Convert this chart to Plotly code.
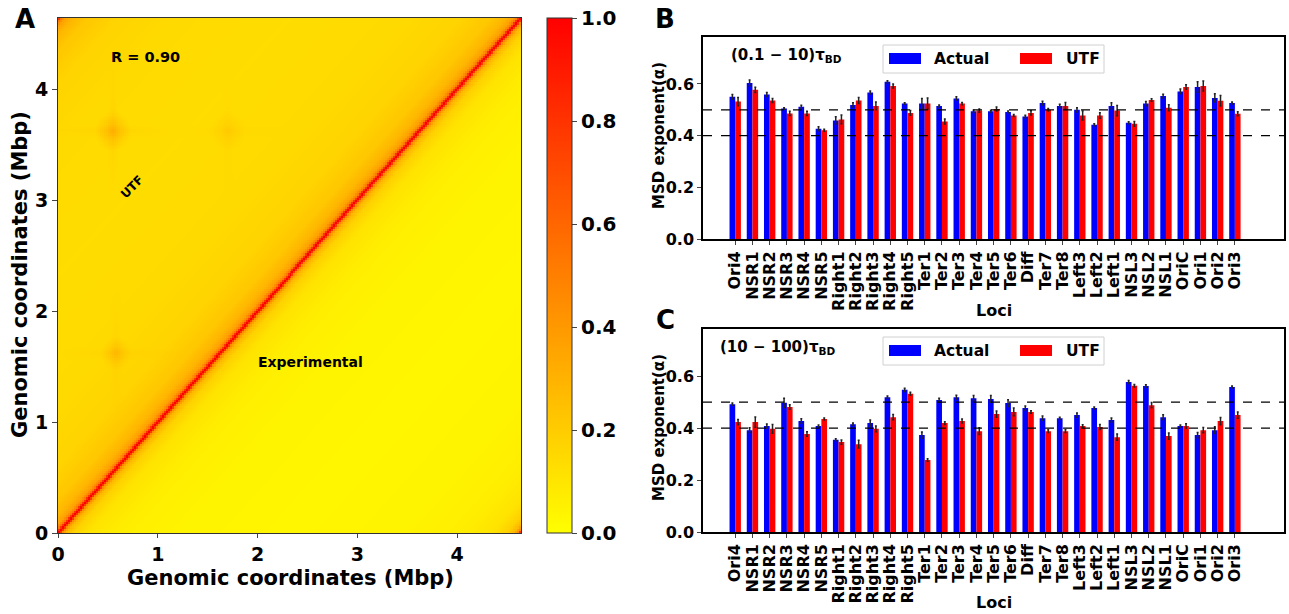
import numpy as np
import plotly.graph_objects as go

W, H = 1289, 614

# ---------------- data ----------------
loci = ["Ori4", "NSR1", "NSR2", "NSR3", "NSR4", "NSR5", "Right1", "Right2", "Right3",
        "Right4", "Right5", "Ter1", "Ter2", "Ter3", "Ter4", "Ter5", "Ter6", "Diff",
        "Ter7", "Ter8", "Left3", "Left2", "Left1", "NSL3", "NSL2", "NSL1", "OriC",
        "Ori1", "Ori2", "Ori3"]

b_actual = [0.550, 0.604, 0.559, 0.505, 0.512, 0.427, 0.459, 0.519, 0.567, 0.608,
            0.524, 0.524, 0.515, 0.544, 0.494, 0.494, 0.492, 0.474, 0.526, 0.515,
            0.500, 0.442, 0.515, 0.450, 0.524, 0.553, 0.571, 0.588, 0.546, 0.526]
b_actual_err = [0.009, 0.011, 0.008, 0.003, 0.006, 0.008, 0.014, 0.008, 0.006, 0.004,
                0.003, 0.020, 0.004, 0.006, 0.004, 0.004, 0.003, 0.005, 0.007, 0.006,
                0.008, 0.004, 0.012, 0.004, 0.008, 0.007, 0.009, 0.020, 0.016, 0.004]
b_utf = [0.532, 0.577, 0.536, 0.486, 0.486, 0.421, 0.463, 0.536, 0.515, 0.592,
         0.488, 0.524, 0.455, 0.524, 0.497, 0.503, 0.478, 0.488, 0.500, 0.515,
         0.478, 0.478, 0.497, 0.446, 0.538, 0.508, 0.588, 0.592, 0.535, 0.485]
b_utf_err = [0.016, 0.010, 0.008, 0.008, 0.008, 0.004, 0.017, 0.012, 0.015, 0.008,
             0.009, 0.022, 0.010, 0.004, 0.006, 0.008, 0.004, 0.008, 0.005, 0.013,
             0.017, 0.011, 0.020, 0.009, 0.005, 0.012, 0.009, 0.019, 0.020, 0.008]

c_actual = [0.492, 0.392, 0.408, 0.497, 0.427, 0.408, 0.355, 0.415, 0.419, 0.519,
            0.547, 0.373, 0.508, 0.519, 0.515, 0.512, 0.496, 0.477, 0.438, 0.438,
            0.450, 0.477, 0.431, 0.577, 0.562, 0.442, 0.408, 0.373, 0.392, 0.558]
c_actual_err = [0.004, 0.009, 0.008, 0.018, 0.009, 0.004, 0.004, 0.004, 0.012, 0.004,
                0.006, 0.012, 0.007, 0.007, 0.010, 0.013, 0.013, 0.008, 0.008, 0.004,
                0.008, 0.004, 0.008, 0.006, 0.005, 0.009, 0.004, 0.010, 0.013, 0.004]
c_utf = [0.423, 0.423, 0.397, 0.481, 0.377, 0.435, 0.346, 0.338, 0.397, 0.442,
         0.532, 0.277, 0.419, 0.427, 0.388, 0.454, 0.462, 0.462, 0.388, 0.388,
         0.408, 0.404, 0.365, 0.563, 0.488, 0.369, 0.408, 0.392, 0.427, 0.450]
c_utf_err = [0.010, 0.020, 0.017, 0.009, 0.009, 0.004, 0.008, 0.015, 0.011, 0.010,
             0.006, 0.005, 0.005, 0.008, 0.013, 0.012, 0.015, 0.005, 0.005, 0.005,
             0.005, 0.010, 0.012, 0.005, 0.010, 0.012, 0.009, 0.010, 0.014, 0.012]

# contact map (A): genome length, contact decay vs genomic distance, UTF hot spots
genome_length = 4.64
n_bins = 232
dist_points = [0.0, 0.02, 0.04, 0.08, 0.15, 0.3, 0.6, 1.2, 2.32]
utf_profile = [1.0, 0.80, 0.52, 0.37, 0.29, 0.22, 0.17, 0.145, 0.135]
exp_profile = [1.0, 0.78, 0.45, 0.28, 0.18, 0.11, 0.07, 0.045, 0.035]
hot_x = [0.55, 1.70, 0.58]
hot_y = [3.62, 3.62, 1.62]
hot_amp = [0.12, 0.05, 0.09]
hot_radius = [0.18, 0.18, 0.15]

# ---------------- helpers ----------------
def px(x):
    return x / W

def py(y):
    return 1 - y / H

FONT = "DejaVu Sans"

# ---------------- contact matrix ----------------
centers = (np.arange(n_bins) + 0.5) * genome_length / n_bins
X, Y = np.meshgrid(centers, centers)
d = np.abs(X - Y)
d = np.minimum(d, genome_length - d)
utf_z = np.interp(d, dist_points, utf_profile)
exp_z = np.interp(d, dist_points, exp_profile)
for hx, hy, ha, hr in zip(hot_x, hot_y, hot_amp, hot_radius):
    r = np.sqrt((X - hx) ** 2 + (Y - hy) ** 2)
    utf_z = utf_z + ha * np.clip(1 - r / hr, 0, 1)
    utf_z = utf_z + 0.25 * ha * np.clip(1 - np.abs(Y - hy) / 0.06, 0, 1) * np.clip(1 - np.abs(X - hx) / 0.6, 0, 1)
    utf_z = utf_z + 0.25 * ha * np.clip(1 - np.abs(X - hx) / 0.06, 0, 1) * np.clip(1 - np.abs(Y - hy) / 0.6, 0, 1)
z = np.where(Y > X, utf_z, exp_z)
np.fill_diagonal(z, 1.0)
z = np.clip(z, 0, 1)

fig = go.Figure()

fig.add_trace(go.Heatmap(
    x=centers, y=centers, z=z, zmin=0, zmax=1,
    colorscale=[[0, "rgb(255,255,0)"], [1, "rgb(255,0,0)"]],
    xaxis="x", yaxis="y", showscale=True,
    colorbar=dict(
        x=px(547), xanchor="left", xpad=0, ypad=0, thickness=25, thicknessmode="pixels",
        y=py(533), yanchor="bottom", len=(533 - 18) / H, lenmode="fraction",
        tickvals=[0, 0.2, 0.4, 0.6, 0.8, 1.0], ticktext=["0.0", "0.2", "0.4", "0.6", "0.8", "1.0"],
        ticks="outside", ticklen=5, tickfont=dict(family=FONT, size=20, color="black", weight="bold"),
        outlinewidth=1, outlinecolor="#333333",
    ),
    hoverinfo="skip",
))

idx = np.arange(len(loci))
bw = 0.33
for (act, act_e, utf, utf_e, xa, ya) in [
    (b_actual, b_actual_err, b_utf, b_utf_err, "x2", "y2"),
    (c_actual, c_actual_err, c_utf, c_utf_err, "x3", "y3"),
]:
    fig.add_trace(go.Bar(
        x=idx, y=act, width=bw, offset=-bw, marker=dict(color="#0000ff", line=dict(width=0)),
        error_y=dict(type="data", array=act_e, color="#222222", thickness=1.5, width=1),
        xaxis=xa, yaxis=ya, showlegend=False, name="Actual"))
    fig.add_trace(go.Bar(
        x=idx, y=utf, width=bw, offset=0, marker=dict(color="#ff0000", line=dict(width=0)),
        error_y=dict(type="data", array=utf_e, color="#222222", thickness=1.5, width=1),
        xaxis=xa, yaxis=ya, showlegend=False, name="UTF"))

tick_font_big = dict(family=FONT, size=19, color="black", weight="bold")
tick_font_small = dict(family=FONT, size=16, color="black", weight="bold")

layout = dict(
    width=W, height=H, margin=dict(l=0, r=0, t=0, b=0, autoexpand=False),
    paper_bgcolor="white", plot_bgcolor="white",
    barmode="overlay", showlegend=False,
    xaxis=dict(domain=[px(58), px(521)], range=[0, genome_length], tickvals=[0, 1, 2, 3, 4],
               ticks="outside", ticklen=4, tickfont=tick_font_big, showline=True, mirror=True,
               linecolor="#333333", linewidth=1, showgrid=False, zeroline=False, anchor="y",
               automargin=False),
    yaxis=dict(domain=[py(533), py(18)], range=[0, genome_length], tickvals=[0, 1, 2, 3, 4],
               ticks="outside", ticklen=5, tickfont=tick_font_big, showline=True, mirror=True,
               linecolor="#333333", linewidth=1, showgrid=False, zeroline=False, anchor="x",
               automargin=False),
)
for xa, ya, top, bot in [("xaxis2", "yaxis2", 37.3, 239.3), ("xaxis3", "yaxis3", 329.3, 532)]:
    layout[xa] = dict(domain=[px(703), px(1284)], range=[-1.87, 31.85],
                      tickvals=list(idx), ticktext=loci, tickangle=-90,
                      ticks="outside", ticklen=4, tickfont=tick_font_small,
                      showline=True, mirror=True, linecolor="black", linewidth=1.5,
                      showgrid=False, zeroline=False, anchor=ya.replace("axis", ""),
                      automargin=False)
    layout[ya] = dict(domain=[py(bot), py(top)], range=[0, 0.78],
                      tickvals=[0, 0.2, 0.4, 0.6], ticktext=["0.0", "0.2", "0.4", "0.6"],
                      ticks="outside", ticklen=4, tickfont=tick_font_small,
                      showline=True, mirror=True, linecolor="black", linewidth=1.5,
                      showgrid=False, zeroline=False, anchor=xa.replace("axis", ""),
                      automargin=False)
fig.update_layout(**layout)

shapes = []
for xa in ["x2", "x3"]:
    ya = "y" + xa[1:]
    for yv in [0.5, 0.4]:
        shapes.append(dict(type="line", xref=f"{xa} domain", yref=ya, x0=0, x1=1, y0=yv, y1=yv,
                           line=dict(color="black", width=1.2, dash="dash"), layer="above"))

annotations = []
def ann(text, x, y, size, xanchor="center", yanchor="middle", angle=0):
    annotations.append(dict(text=text, x=px(x), y=py(y), xref="paper", yref="paper",
                            showarrow=False, xanchor=xanchor, yanchor=yanchor, textangle=angle,
                            font=dict(family=FONT, size=size, color="black", weight="bold")))

# custom legends
for dy in [0, 292]:
    shapes.append(dict(type="rect", xref="paper", yref="paper", x0=px(883), x1=px(1104),
                       y0=py(73 + dy), y1=py(45 + dy), line=dict(color="#d0d0d0", width=1),
                       fillcolor="rgba(255,255,255,0.85)", layer="above"))
    shapes.append(dict(type="rect", xref="paper", yref="paper", x0=px(889), x1=px(921),
                       y0=py(64 + dy), y1=py(53 + dy), line=dict(width=0), fillcolor="#0000ff", layer="above"))
    shapes.append(dict(type="rect", xref="paper", yref="paper", x0=px(1020), x1=px(1052),
                       y0=py(64 + dy), y1=py(53 + dy), line=dict(width=0), fillcolor="#ff0000", layer="above"))
    ann("Actual", 932, 59 + dy, 15.5, xanchor="left")
    ann("UTF", 1064, 59 + dy, 15.5, xanchor="left")

ann("(0.1 − 10)τ<sub>BD</sub>", 729, 55, 15, xanchor="left")
ann("(10 − 100)τ<sub>BD</sub>", 718, 347, 15, xanchor="left")
ann("MSD exponent(α)", 659, 136, 15, angle=-90)
ann("MSD exponent(α)", 659, 428, 15, angle=-90)
ann("Loci", 994, 310, 16)
ann("Loci", 994, 602, 16)

ann("A", 25, 19, 26)
ann("B", 665, 19, 26)
ann("C", 665, 320, 26)

ann("Genomic coordinates (Mbp)", 290, 578, 21)
ann("Genomic coordinates (Mbp)", 20, 275, 21, angle=-90)
ann("R = 0.90", 145, 57, 14.5)
ann("UTF", 132, 187, 12, angle=-45)
ann("Experimental", 310, 362, 14)

fig.update_layout(shapes=shapes, annotations=annotations)
fig.write_html("out.html", config={"displayModeBar": False},
               post_script="document.body.style.margin='0';document.body.style.overflow='hidden';")
